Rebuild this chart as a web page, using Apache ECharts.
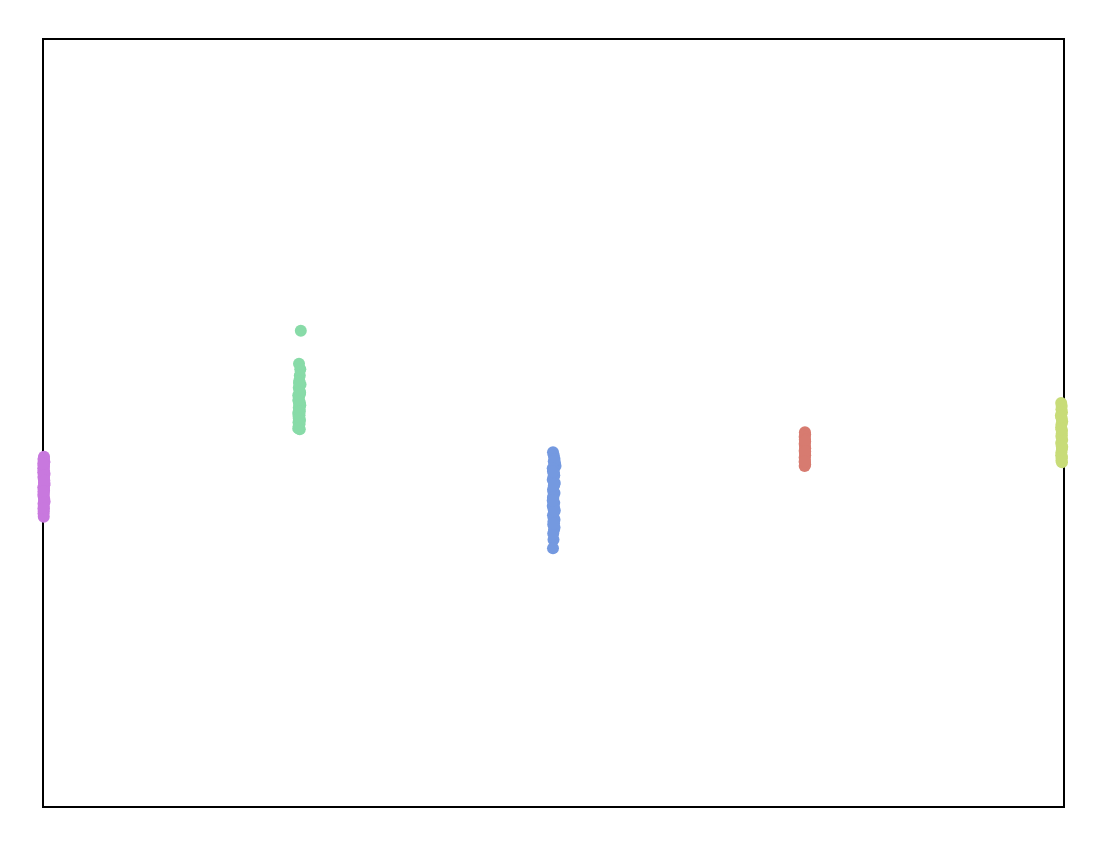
<!DOCTYPE html>
<html>
<head>
<meta charset="utf-8">
<script src="https://cdn.jsdelivr.net/npm/echarts@6/dist/echarts.min.js"></script>
<style>html,body{margin:0;padding:0;background:#fff;}#c{width:1104px;height:844px;}</style>
</head>
<body>
<div id="c"></div>
<script>
// Strip plot: five groups (axis 0..100, no tick labels shown)
const groupNames = ['purple', 'green', 'blue', 'red', 'yellow'];
const groupColors = ['#C878DE', '#88DBA8', '#7499E0', '#D77B70', '#C8DC78'];

const purpleX = [0.004,0.002,0.005,0.003,0.001,0.004,0.006,0.002,0.003,0.004,0.005,0.001,0.004,0.003,0.002,0.004,0.005,0.002,0.003,0.002,0.003,0.002,0.003,0.005,0.004,0.001,0.003,0.006,0.004,0.002,0.005,0.003,0.001,0.004,0.005,0.002,0.006,0.003];
const purpleY = [45.6,45.2,44.9,44.5,44.1,43.8,43.4,43.0,42.7,42.3,41.9,41.6,41.2,40.9,40.5,40.2,39.8,39.5,39.1,38.8,38.5,38.2,37.8,45.0,44.3,43.6,42.9,42.1,41.4,40.7,40.0,45.4,44.7,43.2,42.5,41.1,39.7,38.9];

const greenX = [1.010,1.003,1.008,1.006,1.004,1.009,1.002,1.005,1.007,1.003,1.001,1.006,1.008,1.002,1.004,1.000,1.005,1.003,1.007,1.001,1.004,1.002,1.006,1.000,1.003,1.005,1.001,1.004,1.002,1.003,1.007,1.001,1.006,1.002,1.005,1.000];
const greenY = [62.0,57.7,57.0,56.2,55.5,55.0,54.6,54.2,53.8,53.4,53.0,52.7,52.3,52.0,51.6,51.3,51.0,50.7,50.4,50.1,49.8,49.5,49.2,53.6,52.5,51.8,50.9,50.2,49.6,55.2,54.0,52.9,51.5,50.6,49.9,49.3];

const blueX = [1.998,2.001,2.004,2.006,2.008,1.999,2.002,2.000,1.997,2.005,2.001,1.998,2.004,2.000,1.999,2.003,1.997,2.000,2.002,1.998,2.001,2.000,1.999,2.004,2.002,2.000,1.998,2.001,2.003,2.000,2.002,2.004,1.999,1.997,2.003,1.998,2.005,1.997,2.002,1.998];
const blueY = [46.2,45.8,45.3,44.8,44.4,43.9,43.5,43.0,42.6,42.2,41.8,41.3,40.9,40.5,40.1,39.6,39.2,38.8,38.4,38.0,37.6,37.2,36.8,36.4,36.1,34.8,33.7,45.0,43.2,41.0,39.0,37.4,35.6,44.1,42.0,40.3,38.6,39.9,36.9,43.7];

const redX = [2.985,2.986,2.984,2.985,2.986,2.984,2.985,2.986,2.984,2.985,2.986,2.984,2.985,2.985,2.986,2.984,2.985,2.986,2.984];
const redY = [48.8,48.5,48.2,47.9,47.6,47.3,47.0,46.7,46.4,46.1,45.8,45.5,45.2,44.9,44.6,44.4,47.7,46.3,45.0];

const yellowX = [3.989,3.991,3.990,3.992,3.988,3.991,3.993,3.990,3.989,3.992,3.991,3.990,3.993,3.989,3.991,3.992,3.990,3.989,3.991,3.990,3.992,3.991,3.993,3.989,3.992,3.990];
const yellowY = [52.6,52.2,51.8,51.4,51.0,50.6,50.2,49.8,49.4,49.0,48.6,48.2,47.8,47.4,47.0,46.6,46.2,45.8,45.4,45.1,44.9,48.4,46.9,50.8,45.6,49.2];

const xs = [purpleX, greenX, blueX, redX, yellowX];
const ys = [purpleY, greenY, blueY, redY, yellowY];

const chart = echarts.init(document.getElementById('c'), null, {renderer: 'canvas'});
chart.setOption({
  animation: false,
  backgroundColor: '#ffffff',
  grid: {left: 43, right: 40, top: 39, bottom: 37, show: true, borderColor: '#000000', borderWidth: 2, containLabel: false},
  xAxis: {type: 'value', min: 0, max: 4, show: false},
  yAxis: {type: 'value', min: 0, max: 100, show: false},
  series: groupNames.map((n, i) => ({
    name: n,
    type: 'scatter',
    symbolSize: 12,
    itemStyle: {color: groupColors[i], opacity: 1},
    data: xs[i].map((x, k) => [x, ys[i][k]])
  }))
});
</script>
</body>
</html>
